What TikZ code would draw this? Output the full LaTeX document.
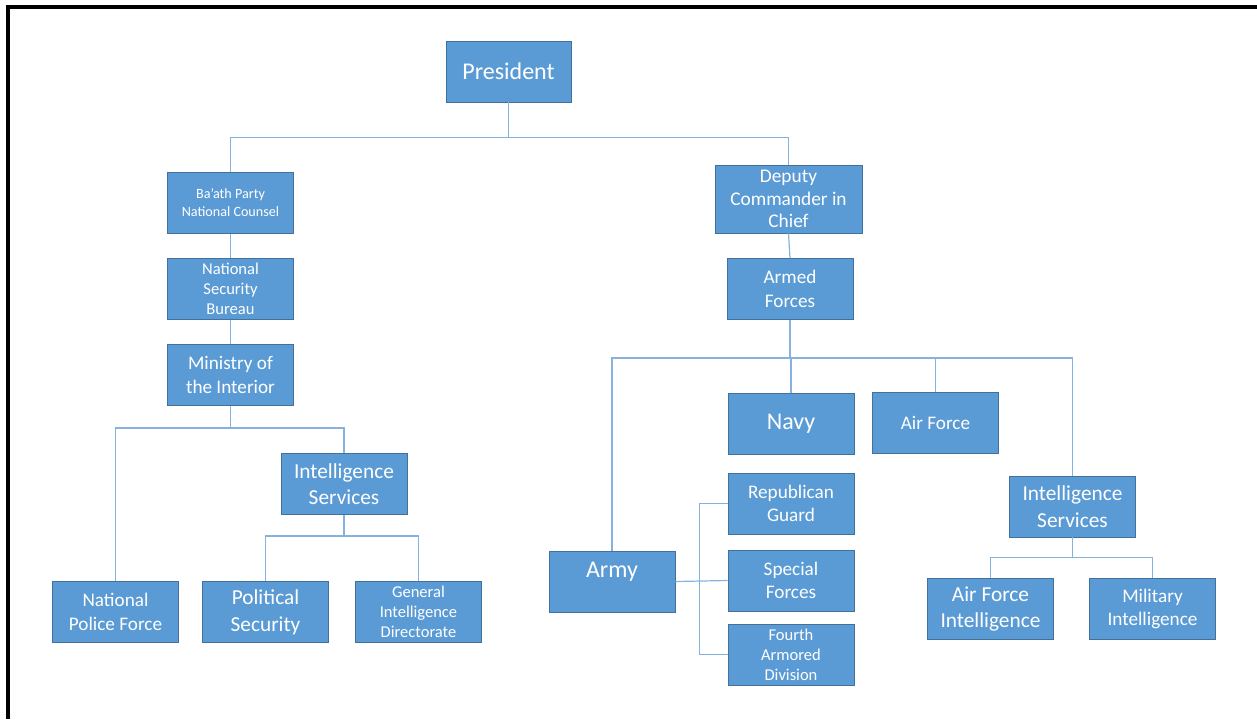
\documentclass[tikz,border=0pt]{standalone}
\usepackage{fontspec}
\setmainfont{Carlito}
\usetikzlibrary{positioning}
\definecolor{boxfill}{HTML}{5B9BD5}
\definecolor{boxline}{HTML}{41719C}
\definecolor{linkblue}{HTML}{86B2DF}

\begin{document}
\begin{tikzpicture}[x=0.75pt, y=-0.75pt, node distance={64.5pt},
    unit/.style = {draw=boxline, fill=boxfill, text=white, align=center, line width=0.6pt,
                   minimum width=94.5pt, minimum height=45.75pt, inner sep=1pt},
    fbig/.style = {font=\fontsize{18}{21}\selectfont},
    fmid/.style = {font=\fontsize{16}{20}\selectfont},
    fstd/.style = {font=\fontsize{14.4}{17.5}\selectfont},
    fsml/.style = {font=\fontsize{12.4}{15}\selectfont},
    fsmall/.style = {font=\fontsize{10.6}{13.5}\selectfont},
    link/.style = {draw=linkblue, line width=0.9pt}]
        \useasboundingbox (0,0) rectangle (1257,719);
        \draw[line width=3pt] (8,719) -- (8,7) -- (1257,7);

        % top
        \node[unit, fbig, minimum width=93.75pt] (pres) at (508.5,71.5) {President};

        % civil side
        \node[unit, fsmall] (baath) at (230.5,203) {Ba’ath Party\\National Counsel};
        \node[unit, fsml] (nsb) [below of = baath] {National\\Security\\Bureau};
        \node[unit, fstd] (moi) [below of = nsb] {Ministry of\\the Interior};
        \node[unit, fmid] (intl) at (344,484) {Intelligence\\Services};
        \node[unit, fstd] (police) at (115.5,612) {National\\Police Force};
        \node[unit, fmid] (polsec) at (265.5,612) {Political\\Security};
        \node[unit, fsml] (gid) at (418.5,612) {General\\Intelligence\\Directorate};

        % military side
        \node[unit, fstd, minimum width=110.25pt, minimum height=51pt, inner sep=0pt,
              font=\fontsize{14.5}{17}\selectfont] (deputy) at (788.5,199) {Deputy\\Commander in\\Chief};
        \node[unit, fstd] (armed) at (790,289) {Armed\\Forces};
        \node[unit, fbig] (navy) at (791,423.5) {Navy};
        \node[unit, fstd] (airf) at (935.5,422.5) {Air Force};
        \node[unit, fbig, text depth=18pt] (army) at (612,581.5) {Army};
        \node[unit, fstd] (guard) at (791,503.5) {Republican\\Guard};
        \node[unit, fstd] (special) at (791,580.5) {Special\\Forces};
        \node[unit, fsml] (fourth) at (791,654.5) {Fourth\\Armored\\Division};
        \node[unit, fmid] (intr) at (1072.5,506.5) {Intelligence\\Services};
        \node[unit, fmid] (afi) at (990.5,609) {Air Force\\Intelligence};
        \node[unit, fstd] (milint) at (1152.5,609) {Military\\Intelligence};

        \draw[link] (pres.south) -- ++(0,35) -| (baath.north);
        \draw[link] (pres.south) -- ++(0,35) -| (deputy.north);

        \draw[link] (baath.south) -- (nsb.north);
        \draw[link] (nsb.south) -- (moi.north);
        \draw[link] (moi.south) -- ++(0,22) -| (police.north);
        \draw[link] (moi.south) -- ++(0,22) -| (intl.north);
        \draw[link] (intl.south) -- ++(0,21) -| (polsec.north);
        \draw[link] (intl.south) -- ++(0,21) -| (gid.north);

        \draw[link] (deputy.south) -- (armed.north);
        \draw[link] (armed.south) -- ++(0,38) -| (army.north);
        \draw[link] (armed.south) -- ++(0,38) -| (navy.north);
        \draw[link] (armed.south) -- ++(0,38) -| (airf.north);
        \draw[link] (armed.south) -- ++(0,38) -| (intr.north);
        \draw[link] (army.east) -- (special.west);
        \draw[link] (guard.west) -- ++(-28,0) |- (fourth.west);
        \draw[link] (intr.south) -- ++(0,20) -| (afi.north);
        \draw[link] (intr.south) -- ++(0,20) -| (milint.north);
    \end{tikzpicture}
\end{document}
